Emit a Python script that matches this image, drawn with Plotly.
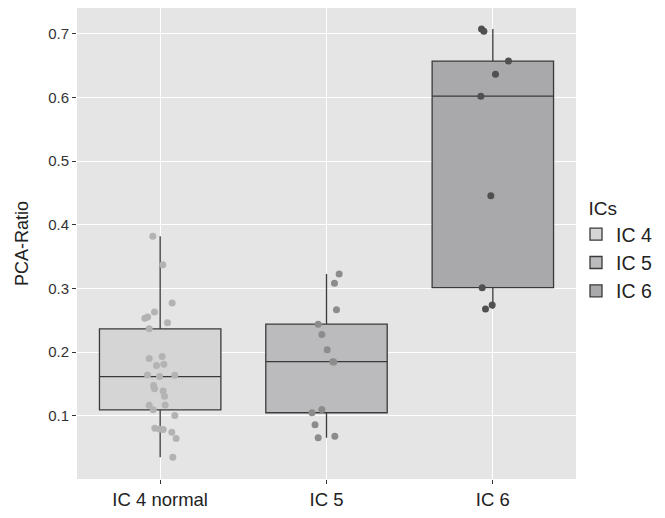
import numpy as np
import plotly.graph_objects as go

categories = ["IC 4 normal", "IC 5", "IC 6"]
legend_names = ["IC 4", "IC 5", "IC 6"]

ic4_values = [0.382, 0.337, 0.277, 0.263, 0.255, 0.253, 0.246, 0.2365, 0.193, 0.190,
              0.181, 0.179, 0.1636, 0.164, 0.1616, 0.1476, 0.1425, 0.1388, 0.1305,
              0.117, 0.1166, 0.1093, 0.1006, 0.0804, 0.0789, 0.0783, 0.0742, 0.0643, 0.0348]
ic4_jitter = [-0.044, 0.016, 0.072, -0.034, -0.075, -0.092, 0.044, -0.066, 0.012, -0.066,
              0.022, -0.022, 0.088, -0.076, -0.004, -0.040, -0.034, 0.018, 0.026,
              0.030, -0.066, -0.042, 0.088, -0.032, -0.002, 0.018, 0.070, 0.096, 0.076]

ic5_values = [0.3225, 0.308, 0.2666, 0.2438, 0.2278, 0.2035, 0.1849, 0.1845,
              0.1099, 0.1047, 0.086, 0.0654, 0.068]
ic5_jitter = [0.076, 0.048, 0.060, -0.050, -0.028, 0.004, 0.038, 0.044,
              -0.028, -0.087, -0.069, -0.050, 0.050]

ic6_values = [0.7073, 0.7036, 0.657, 0.6364, 0.6018, 0.4455, 0.3012, 0.2738, 0.2676]
ic6_jitter = [-0.068, -0.054, 0.094, 0.016, -0.072, -0.012, -0.064, -0.004, -0.044]

groups = [(ic4_values, ic4_jitter), (ic5_values, ic5_jitter), (ic6_values, ic6_jitter)]

box_fills = ["#d5d5d5", "#bbbbbd", "#a9a9ab"]
point_colors = ["#b3b3b3", "#8c8c8c", "#505050"]

fig = go.Figure()

for i, (vals, jit) in enumerate(groups):
    v = np.array(vals)
    q1, med, q3 = np.percentile(v, [25, 50, 75])
    iqr = q3 - q1
    upper = v[v <= q3 + 1.5 * iqr].max()
    lower = v[v >= q1 - 1.5 * iqr].min()
    fig.add_trace(go.Box(
        x=[i], q1=[q1], median=[med], q3=[q3], lowerfence=[lower], upperfence=[upper],
        name=legend_names[i], width=0.73, whiskerwidth=0,
        fillcolor=box_fills[i], line=dict(color="#3a3a3a", width=1.3),
        boxpoints=False, showlegend=True, hoverinfo="skip",
    ))

for i, (vals, jit) in enumerate(groups):
    fig.add_trace(go.Scatter(
        x=[i + j for j in jit], y=vals, mode="markers",
        marker=dict(color=point_colors[i], size=7, line=dict(width=0)),
        showlegend=False, hoverinfo="skip",
    ))

font_family = "Liberation Sans, Arial, sans-serif"

fig.update_layout(
    width=665, height=518,
    margin=dict(l=77, r=88, t=8, b=33),
    paper_bgcolor="white", plot_bgcolor="#e5e5e5",
    font=dict(family=font_family, color="#222222"),
    xaxis=dict(
        range=[-0.5, 2.5], tickmode="array", tickvals=[0, 1, 2], ticktext=categories,
        showgrid=True, gridcolor="white", gridwidth=1.2, zeroline=False,
        ticks="outside", ticklen=4, tickcolor="#333333", tickwidth=1,
        tickfont=dict(size=18.5, color="#222222", family=font_family),
        showline=False,
    ),
    yaxis=dict(
        range=[0.0007, 0.7403], tickmode="array",
        tickvals=[0.1, 0.2, 0.3, 0.4, 0.5, 0.6, 0.7],
        ticktext=["0.1", "0.2", "0.3", "0.4", "0.5", "0.6", "0.7"],
        showgrid=True, gridcolor="white", gridwidth=1.2, zeroline=False,
        ticks="outside", ticklen=4, tickcolor="#333333", tickwidth=1,
        tickfont=dict(size=15, color="#333333", family=font_family),
        title=dict(text="PCA-Ratio", font=dict(size=18, color="#222222", family=font_family), standoff=14),
        showline=False,
    ),
    legend=dict(
        title=dict(text="&nbsp;&nbsp;ICs", font=dict(size=19, color="#222222", family=font_family)),
        font=dict(size=19.5, color="#222222", family=font_family),
        x=1.0, xanchor="left", y=0.613, yanchor="top",
        bgcolor="rgba(0,0,0,0)", tracegroupgap=0, itemwidth=30,
    ),
)

fig.write_html("out.html")
